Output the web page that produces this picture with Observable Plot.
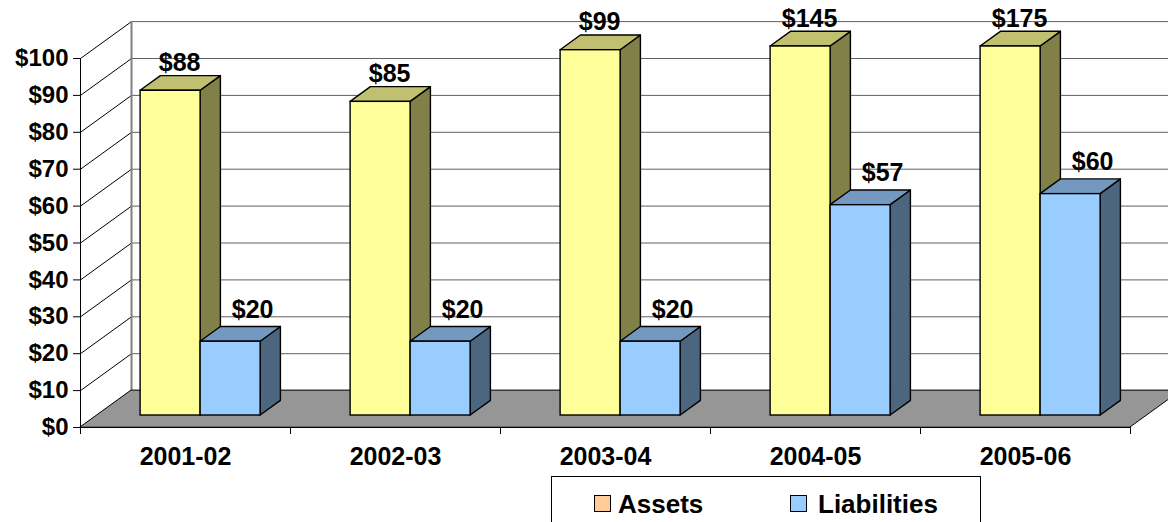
<!DOCTYPE html>
<html>
<head>
<meta charset="utf-8">
<script src="https://cdn.jsdelivr.net/npm/d3@7"></script>
<script src="https://cdn.jsdelivr.net/npm/@observablehq/plot@0.6"></script>
<style>
  html, body { margin: 0; padding: 0; background: #fff; overflow: hidden; }
  body { width: 1168px; height: 522px; font-family: "Liberation Sans", Arial, sans-serif; }
  #legend { position: relative; margin-left: 551px; width: 430px; height: 70px; box-sizing: border-box;
            border: 1px solid #000; font-weight: bold; font-size: 26px; }
  #legend .sw { position: absolute; top: 18px; width: 17px; height: 17px; box-sizing: border-box; border: 1px solid #000; }
  #legend .lb { position: absolute; top: 14px; line-height: 26px; white-space: nowrap; }
</style>
</head>
<body>
<div id="chart"></div>
<div id="legend"></div>
<script>
// ---- data ----
const categories = ["2001-02", "2002-03", "2003-04", "2004-05", "2005-06"];
const assets = [88, 85, 99, 145, 175];
const liabilities = [20, 20, 20, 57, 60];
const yTicks = [0, 10, 20, 30, 40, 50, 60, 70, 80, 90, 100];
const axisMax = 100;
const seriesNames = ["Assets", "Liabilities"];

// ---- styling / geometry ----
const styles = [
  {front: "#FFFF99", top: "#C0C070", side: "#808048", legend: "#FFCC99", labelDx: 9, labelDy: -20},
  {front: "#99CCFF", top: "#7399C0", side: "#4D6680", legend: "#99CCFF", labelDx: 22, labelDy: -24}
];
const BW = 0.2857, CEN = 0.493;
const D1 = 3.25, D2 = 7.23, WALL = 10;
const XPERY = 0.02429;          // x-depth per unit of y-depth
const WDX = WALL * XPERY;
const n = categories.length;

const seriesValues = [assets, liabilities];
const bars = [];
seriesValues.forEach((vals, si) => vals.forEach((v, i) => {
  const xl = i + CEN - BW + si * BW, xr = xl + BW, h = Math.min(v, axisMax);
  bars.push({si, i, v, h, xl, xr, key: si + "-" + i});
}));

const sideRows = bars.flatMap(b => [
  {si: b.si, key: b.key, x: b.xr + D1 * XPERY, y1: D1, y2: b.h + D1},
  {si: b.si, key: b.key, x: b.xr + D2 * XPERY, y1: D2, y2: b.h + D2}
]);
const topRows = bars.flatMap(b => [
  {si: b.si, key: b.key, y: b.h + D1, x1: b.xl + D1 * XPERY, x2: b.xr + D1 * XPERY},
  {si: b.si, key: b.key, y: b.h + D2, x1: b.xl + D2 * XPERY, x2: b.xr + D2 * XPERY}
]);
const floorRows = [
  {y: 0, x1: 0, x2: n},
  {y: WALL, x1: WDX, x2: n + WDX}
];

const marks = [
  Plot.ruleY(yTicks, {y: d => d + WALL, x1: WDX, x2: n + WDX, stroke: "#606060", strokeWidth: 1}),
  Plot.link(yTicks, {x1: 0, y1: d => d, x2: WDX, y2: d => d + WALL, stroke: "#000", strokeWidth: 1}),
  Plot.ruleX([WDX], {y1: WALL, y2: axisMax + WALL, stroke: "#808080", strokeWidth: 2}),
  Plot.areaX(floorRows, {y: "y", x1: "x1", x2: "x2", fill: "#969696", stroke: "#000", strokeWidth: 1})
];
styles.forEach((s, si) => {
  marks.push(Plot.areaY(sideRows.filter(d => d.si === si),
    {x: "x", y1: "y1", y2: "y2", z: "key", fill: s.side, stroke: "#000", strokeWidth: 1.4, strokeLinejoin: "round"}));
});
styles.forEach((s, si) => {
  marks.push(Plot.areaX(topRows.filter(d => d.si === si),
    {y: "y", x1: "x1", x2: "x2", z: "key", fill: s.top, stroke: "#000", strokeWidth: 1.4, strokeLinejoin: "round"}));
});
styles.forEach((s, si) => {
  marks.push(Plot.rect(bars.filter(d => d.si === si),
    {x1: d => d.xl + D1 * XPERY, x2: d => d.xr + D1 * XPERY, y1: D1, y2: d => d.h + D1,
     fill: s.front, stroke: "#000", strokeWidth: 1.4}));
});
styles.forEach((s, si) => {
  marks.push(Plot.text(bars.filter(d => d.si === si),
    {x: d => (d.xl + d.xr) / 2 + D1 * XPERY, y: d => d.h + D1, text: d => "$" + d.v,
     dx: s.labelDx, dy: s.labelDy, lineAnchor: "bottom", textAnchor: "middle", fontSize: 25, fontWeight: "bold"}));
});
marks.push(Plot.text(categories, {x: (d, i) => i + 0.5, y: 0, text: d => d, dy: 37, lineAnchor: "bottom",
  textAnchor: "middle", fontSize: 25, fontWeight: "bold"}));

const chart = Plot.plot({
  width: 1168,
  height: 476,
  marginLeft: 80,
  marginRight: 38,
  marginTop: 58,
  marginBottom: 49,
  style: {fontFamily: "'Liberation Sans', Arial, sans-serif", fontSize: "24px", fontWeight: "bold",
          color: "#000", background: "#fff", overflow: "hidden"},
  x: {type: "linear", domain: [0, n], ticks: d3.range(0, n + 1), tickFormat: () => "", tickSize: 7, label: null, line: true},
  y: {domain: [0, axisMax], ticks: yTicks, tickFormat: d => "$" + d, tickSize: 7, tickPadding: 5, label: null, line: true},
  marks
});
document.getElementById("chart").appendChild(chart);

// ---- legend ----
const legend = document.getElementById("legend");
const legendPos = [{sw: 42, lb: 66}, {sw: 238, lb: 266}];
seriesNames.forEach((name, si) => {
  const sw = document.createElement("div");
  sw.className = "sw";
  sw.style.left = legendPos[si].sw + "px";
  sw.style.background = styles[si].legend;
  const lb = document.createElement("div");
  lb.className = "lb";
  lb.style.left = legendPos[si].lb + "px";
  lb.textContent = name;
  legend.appendChild(sw);
  legend.appendChild(lb);
});
</script>
</body>
</html>
